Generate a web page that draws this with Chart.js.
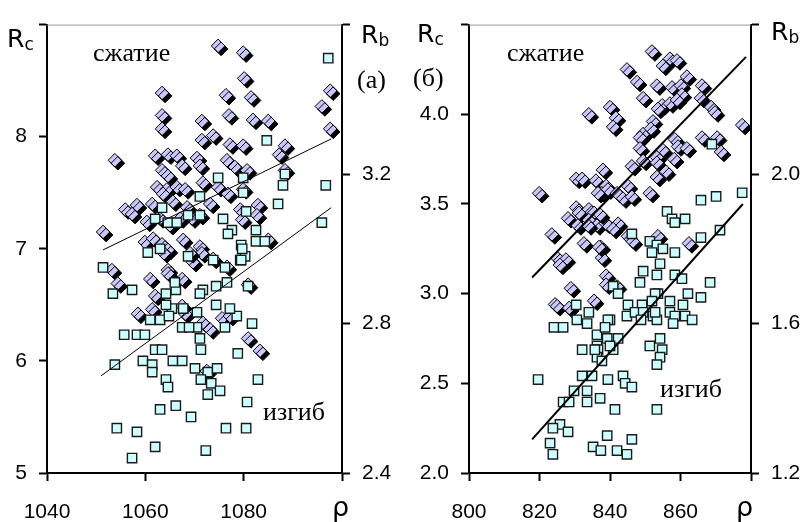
<!DOCTYPE html>
<html><head><meta charset="utf-8">
<script src="https://cdn.jsdelivr.net/npm/chart.js@4"></script>
<style>
html,body{margin:0;padding:0;background:#fff}
#wrap{position:relative;width:804px;height:522px;overflow:hidden;background:#fff}
.pane{position:absolute;top:0;height:522px}
.t{position:absolute;white-space:nowrap;color:#000}
.serif{font-family:"Liberation Serif","Times New Roman",serif;font-size:26px;line-height:26px}
.sans{font-family:"DejaVu Sans",sans-serif;font-size:25px;line-height:24px}
.sans sub{font-size:17px;vertical-align:-3px;line-height:0}
.rho{font-family:"DejaVu Sans",sans-serif;font-size:27px;line-height:26px}
</style></head>
<body>
<div id="wrap">
  <div class="pane" style="left:0;width:400px"><canvas id="c1"></canvas></div>
  <div class="pane" style="left:400px;width:404px"><canvas id="c2"></canvas></div>
  <div class="t sans" style="left:7px;top:27px">R<sub>c</sub></div>
  <div class="t sans" style="left:361px;top:23px">R<sub>b</sub></div>
  <div class="t serif" style="left:93px;top:40px">сжатие</div>
  <div class="t serif" style="left:357px;top:67px">(а)</div>
  <div class="t serif" style="left:263px;top:399px">изгиб</div>
  <div class="t rho" style="left:332px;top:494px">ρ</div>
  <div class="t sans" style="left:417px;top:22px">R<sub>c</sub></div>
  <div class="t serif" style="left:413px;top:65px">(б)</div>
  <div class="t sans" style="left:771px;top:20px">R<sub>b</sub></div>
  <div class="t serif" style="left:507px;top:40px">сжатие</div>
  <div class="t serif" style="left:660px;top:376px">изгиб</div>
  <div class="t rho" style="left:736px;top:494px">ρ</div>
</div>
<script>
// ---------- DATA (ρ, R) ----------
// Panel (а): compressive strength Rc (left axis) vs density
const leftRc = [[1074.8,8.81],[1079.9,8.75],[1080.1,8.52],[1063.4,8.39],[1076.4,8.37],[1081.5,8.35],[1097.6,8.41],[1095.9,8.27],[1063.4,8.19],[1063.4,8.07],
[1071.5,8.14],[1077.0,8.19],[1081.9,8.15],[1085.0,8.14],[1097.6,8.07],[1053.8,7.79],[1062.0,7.83],[1064.6,7.84],[1066.4,7.83],[1070.5,7.81],
[1071.5,7.97],[1073.8,8.01],[1077.2,7.93],[1079.9,7.92],[1088.4,7.92],[1087.2,7.84],[1063.4,7.70],[1064.6,7.65],[1067.5,7.74],[1071.1,7.74],
[1076.6,7.79],[1078.2,7.73],[1080.7,7.70],[1062.4,7.55],[1064.4,7.53],[1066.4,7.55],[1068.1,7.53],[1071.7,7.59],[1063.6,7.49],[1074.8,7.55],
[1076.8,7.49],[1079.9,7.53],[1088.4,7.70],[1055.9,7.35],[1057.3,7.31],[1058.3,7.39],[1061.4,7.40],[1065.6,7.42],[1060.3,7.24],[1063.0,7.27],
[1068.5,7.37],[1071.1,7.30],[1069.5,7.27],[1073.2,7.40],[1065.0,7.21],[1067.1,7.27],[1079.3,7.35],[1082.9,7.39],[1082.7,7.30],[1079.7,7.26],
[1051.4,7.15],[1059.9,7.06],[1061.6,7.09],[1063.4,7.04],[1064.6,6.99],[1067.7,7.08],[1071.1,7.02],[1071.5,6.96],[1073.8,6.91],[1076.6,6.84],
[1085.0,7.08],[1069.7,6.88],[1064.6,6.81],[1053.2,6.81],[1054.4,6.69],[1061.0,6.73],[1064.6,6.78],[1067.5,6.73],[1062.0,6.58],[1058.5,6.42],
[1061.4,6.46],[1067.5,6.49],[1068.1,6.42],[1071.7,6.34],[1073.2,6.28],[1075.6,6.38],[1077.2,6.40],[1080.9,6.68],[1080.9,6.20],[1083.3,6.09],
[1072.5,5.91],[1063.8,6.96],[1069.1,6.96]];
// Panel (а): bending strength Rb (right axis) vs density
const leftRb = [[1097.2,3.51],[1084.7,3.29],[1074.8,3.19],[1079.9,3.19],[1079.9,3.15],[1088.4,3.20],[1088.0,3.17],[1096.7,3.17],[1087.0,3.12],[1080.5,3.10],
[1095.9,3.07],[1071.1,3.14],[1068.7,3.09],[1071.1,3.09],[1063.4,3.11],[1062.0,3.08],[1064.6,3.07],[1066.4,3.07],[1075.8,3.08],[1077.6,3.05],
[1076.8,3.04],[1082.5,3.05],[1082.5,3.02],[1084.3,3.02],[1079.5,3.01],[1079.3,2.97],[1080.3,2.98],[1060.5,2.99],[1063.0,3.00],[1068.7,2.98],
[1073.8,2.97],[1076.2,2.95],[1051.4,2.95],[1053.4,2.88],[1057.3,2.89],[1055.7,2.77],[1058.3,2.77],[1059.9,2.77],[1061.0,2.81],[1063.0,2.81],
[1062.0,2.73],[1063.4,2.73],[1053.8,2.69],[1059.5,2.70],[1061.4,2.69],[1061.4,2.67],[1064.2,2.65],[1064.6,2.63],[1065.6,2.70],[1067.5,2.70],
[1063.0,2.57],[1066.2,2.58],[1069.3,2.55],[1054.2,2.52],[1058.3,2.51],[1062.0,2.47],[1057.3,2.44],[1072.3,2.46],[1076.4,2.52],[1080.5,2.52],
[1080.7,2.59],[1078.8,2.72],[1082.9,2.65],[1081.7,2.80],[1078.6,2.82],[1077.2,2.84],[1076.2,2.79],[1074.4,2.85],[1074.4,2.90],[1076.6,2.91],
[1080.9,2.90],[1071.7,2.89],[1071.1,2.88],[1070.5,2.83],[1070.5,2.79],[1067.5,2.79],[1067.7,2.84],[1065.4,2.84],[1064.8,2.82],[1064.2,2.88],
[1064.2,2.85],[1066.2,2.89],[1066.0,2.91],[1071.1,2.76],[1071.3,2.73],[1070.1,2.68],[1072.7,2.67],[1074.6,2.68],[1071.3,2.65],[1073.4,2.64],
[1072.7,2.61],[1075.2,2.62],[1068.9,2.79],[1079.7,3.00],[1079.5,2.97]];
const leftRcTrend = [[1051.4,6.99],[1097.8,7.98]];
const leftRbTrend = [[1051.0,2.66],[1097.8,3.11]];

// Panel (б)
const rightRc = [[851.9,4.35],[857.0,4.31],[859.0,4.30],[855.0,4.27],[844.8,4.25],[847.7,4.18],[861.8,4.21],[853.3,4.16],[857.6,4.15],[860.1,4.16],
[866.1,4.16],[849.4,4.09],[854.8,4.05],[857.0,4.06],[860.4,4.11],[859.0,4.08],[865.8,4.09],[868.7,4.04],[869.8,4.01],[853.6,4.03],
[852.2,3.96],[834.0,4.00],[840.0,4.04],[841.7,3.98],[840.9,3.93],[877.5,3.94],[849.4,3.89],[848.5,3.87],[851.6,3.92],[858.4,3.86],
[859.3,3.82],[861.8,3.81],[866.1,3.87],[870.4,3.87],[871.5,3.79],[848.5,3.81],[855.0,3.80],[853.3,3.76],[849.4,3.74],[846.2,3.71],
[858.2,3.75],[853.3,3.73],[855.9,3.68],[853.3,3.65],[845.1,3.60],[851.3,3.56],[838.0,3.69],[830.4,3.64],[832.1,3.64],[836.0,3.63],
[838.9,3.60],[837.7,3.56],[839.4,3.58],[836.6,3.56],[819.9,3.56],[842.0,3.56],[843.7,3.53],[846.2,3.54],[830.4,3.48],[828.1,3.42],
[834.0,3.47],[835.5,3.45],[831.2,3.45],[834.0,3.41],[836.3,3.38],[838.9,3.39],[837.2,3.44],[842.3,3.39],[840.9,3.36],[845.1,3.32],
[846.5,3.29],[853.6,3.32],[862.4,3.28],[823.5,3.33],[832.6,3.28],[837.4,3.26],[825.0,3.20],[827.5,3.19],[837.7,3.20],[836.9,3.26],
[838.9,3.10],[838.9,3.05],[828.9,3.03],[824.4,2.94],[825.0,2.93],[828.4,2.92],[835.5,2.96],[842.0,3.04],[825.8,3.16],[830.9,3.38],
[833.8,3.38]];
const rightRb = [[868.9,2.08],[877.5,1.95],[870.1,1.94],[865.8,1.93],[856.2,1.90],[857.6,1.88],[861.3,1.88],[858.4,1.87],[871.2,1.85],[865.8,1.83],
[846.2,1.84],[851.3,1.82],[853.3,1.81],[855.0,1.80],[851.9,1.79],[858.4,1.79],[854.2,1.76],[849.4,1.74],[853.3,1.73],[858.4,1.73],
[860.4,1.72],[868.4,1.71],[862.1,1.68],[865.8,1.67],[853.6,1.68],[840.9,1.70],[842.3,1.68],[848.5,1.71],[857.0,1.66],[845.1,1.65],
[849.1,1.65],[844.8,1.62],[847.1,1.63],[849.4,1.63],[848.8,1.61],[852.2,1.62],[853.3,1.61],[857.0,1.63],[858.4,1.62],[857.9,1.60],
[861.3,1.62],[840.0,1.61],[842.3,1.56],[840.9,1.53],[851.3,1.54],[854.2,1.56],[854.8,1.53],[854.2,1.51],[853.3,1.49],[843.7,1.46],
[844.3,1.44],[846.2,1.43],[841.4,1.37],[853.3,1.37],[846.2,1.29],[842.0,1.26],[844.8,1.25],[819.6,1.45],[824.1,1.59],[826.7,1.59],
[830.4,1.65],[830.6,1.61],[833.5,1.60],[834.0,1.63],[839.4,1.61],[836.3,1.57],[836.3,1.54],[839.2,1.56],[836.6,1.53],[836.3,1.51],
[837.7,1.50],[840.0,1.54],[838.6,1.59],[832.1,1.53],[835.7,1.53],[832.1,1.46],[834.9,1.46],[839.4,1.45],[833.5,1.42],[833.5,1.39],
[837.2,1.40],[826.7,1.39],[828.4,1.39],[829.8,1.42],[825.8,1.33],[828.1,1.31],[823.8,1.32],[823.0,1.28],[823.8,1.25],[835.2,1.27],
[837.4,1.26],[839.2,1.30],[860.7,1.65],[863.3,1.61],[852.8,1.68],[851.9,1.66],[852.8,1.63]];
const rightRcTrend = [[817.9,3.09],[878.6,4.32]];
const rightRbTrend = [[817.9,1.29],[877.7,1.92]];

// tick labels
const leftXLabels = ['1040','1060','1080'];
const leftYLabels = ['5','6','7','8'];
const leftY2Labels = ['2.4','2.8','3.2'];
const rightXLabels = ['800','820','840','860'];
const rightYLabels = ['2.0','2.5','3.0','3.5','4.0'];
const rightY2Labels = ['1.2','1.6','2.0'];

// ---------- RENDERING ----------
const pts = a => a.map(p => ({x: p[0], y: p[1]}));
const tickFont = {family: '"Liberation Sans Narrow","Liberation Sans",Arial,sans-serif', size: 21};

const markerShadow = {
  id: 'markerShadow',
  beforeDatasetDraw(chart, args) {
    if (chart.data.datasets[args.index].shadow) {
      const c = chart.ctx; c.save();
      c.shadowColor = '#000'; c.shadowOffsetX = 3; c.shadowOffsetY = 3; c.shadowBlur = 0;
    }
  },
  afterDatasetDraw(chart, args) {
    if (chart.data.datasets[args.index].shadow) chart.ctx.restore();
  }
};
const topFrame = {
  id: 'topFrame',
  beforeDatasetsDraw(chart) {
    const {ctx, chartArea: a} = chart;
    ctx.save(); ctx.strokeStyle = '#9a9a9a'; ctx.lineWidth = 1;
    ctx.beginPath(); ctx.moveTo(a.left, a.top + 0.5); ctx.lineTo(a.right, a.top + 0.5); ctx.stroke();
    ctx.restore();
  }
};

function axis(o) {
  return {
    type: 'linear', position: o.position, min: o.min, max: o.max,
    afterFit: o.fit,
    grid: {display: true, drawOnChartArea: false, drawTicks: true, tickLength: 8, tickWidth: 2, color: '#000'},
    border: {display: true, color: '#000', width: 2},
    ticks: {stepSize: o.step, color: '#000', font: tickFont, padding: o.pad, maxRotation: 0, autoSkip: false,
      callback: v => { const s = o.fmt(v); return o.labels.includes(s) ? s : ''; }}
  };
}

function makePanel(id, d) {
  return new Chart(document.getElementById(id), {
    type: 'scatter',
    data: {datasets: [
      {type: 'line', data: pts(d.rcTrend), yAxisID: 'y', borderColor: '#000', borderWidth: d.lw, pointRadius: 0, fill: false, order: 0},
      {type: 'line', data: pts(d.rbTrend), yAxisID: 'y2', borderColor: '#000', borderWidth: d.lw, pointRadius: 0, fill: false, order: 0},
      {data: pts(d.rb), yAxisID: 'y2', pointStyle: 'rect', pointRadius: 6.6, backgroundColor: '#ccffff', borderColor: '#1a1a1a', borderWidth: 1.4, order: 1},
      {data: pts(d.rc), yAxisID: 'y', pointStyle: 'rectRot', pointRadius: 6.8, backgroundColor: '#c8c8fa', borderColor: '#000', borderWidth: 1, order: 2, shadow: true}
    ]},
    options: {
      responsive: true, maintainAspectRatio: false, animation: false,
      layout: {padding: {top: d.top, left: 0, right: 0, bottom: 0}},
      plugins: {legend: {display: false}, tooltip: {enabled: false}},
      scales: {
        x: axis({position: 'bottom', min: d.xmin, max: d.xmax, step: 20, pad: 19, labels: d.xl, fmt: v => String(Math.round(v)), fit: s => { s.height = 49; }}),
        y: axis({position: 'left', min: d.ymin, max: d.ymax, step: d.ystep, pad: 12, labels: d.yl, fmt: d.yfmt, fit: s => { s.width = d.lw_axis; }}),
        y2: axis({position: 'right', min: d.y2min, max: d.y2max, step: 0.4, pad: 12, labels: d.y2l, fmt: v => v.toFixed(1), fit: s => { s.width = d.rw_axis; }})
      }
    },
    plugins: [markerShadow, topFrame]
  });
}

makePanel('c1', {rc: leftRc, rb: leftRb, rcTrend: leftRcTrend, rbTrend: leftRbTrend, lw: 1, top: 20,
  xmin: 1040, xmax: 1100, xl: leftXLabels, ymin: 5, ymax: 9, ystep: 1, yl: leftYLabels, yfmt: v => String(Math.round(v)),
  y2min: 2.4, y2max: 3.6, y2l: leftY2Labels, lw_axis: 47, rw_axis: 58});
makePanel('c2', {rc: rightRc, rb: rightRb, rcTrend: rightRcTrend, rbTrend: rightRbTrend, lw: 2, top: 15,
  xmin: 800, xmax: 880, xl: rightXLabels, ymin: 2, ymax: 4.5, ystep: 0.5, yl: rightYLabels, yfmt: v => v.toFixed(1),
  y2min: 1.2, y2max: 2.4, y2l: rightY2Labels, lw_axis: 69, rw_axis: 53});
</script>
</body></html>
